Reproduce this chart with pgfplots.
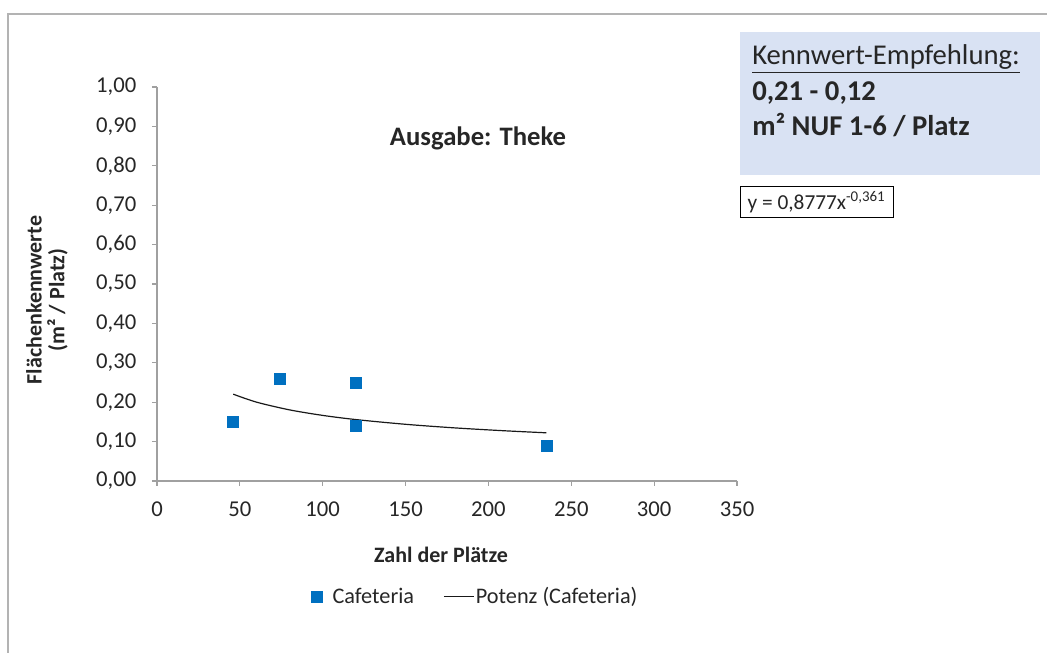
\documentclass[border=0pt]{standalone}
\usepackage{pgfplots}
\pgfplotsset{compat=1.18}
\usepackage{fontspec}
\setmainfont{Carlito}
\definecolor{mblue}{HTML}{0070C0}
\definecolor{boxblue}{HTML}{D9E2F3}
\definecolor{txt}{HTML}{262626}
\definecolor{axgray}{HTML}{A0A0A0}
\begin{document}
\begin{tikzpicture}[x=0.75pt,y=0.75pt]
\path[use as bounding box] (0,0) rectangle (1047,653);
\draw[axgray!80, line width=1.1pt] (8,0) -- (8,639) -- (1047,639);
\begin{axis}[
  at={(117.75pt,129pt)}, anchor=south west,
  scale only axis, width=435pt, height=295.5pt,
  xmin=0, xmax=350, ymin=0, ymax=1,
  axis lines*=left,
  axis line style={axgray, line width=0.8pt},
  tick style={axgray, line width=0.8pt},
  tick align=outside, major tick length=3.75pt,
  xtick={0,50,...,350}, ytick={0,0.1,...,1.0},
  minor tick num=0,
  ticklabel style={font=\fontsize{17}{20}\selectfont, text=txt},
  /pgf/number format/assume math mode=true,
  yticklabel style={xshift=-8.25pt, /pgf/number format/.cd, fixed, fixed zerofill, precision=2, use comma},
  xticklabel style={yshift=-8.5pt, /pgf/number format/.cd, fixed, precision=0},
  scaled y ticks=false,
  legend style={at={(axis description cs:0.546,-0.294)}, anchor=center, draw=none, fill=none,
    legend columns=2, font=\fontsize{16.7}{20}\selectfont, text=txt,
    nodes={inner xsep=1pt},
    /tikz/every even column/.append style={column sep=21pt}},
  clip=false,
]
\addplot[only marks, mark=square*, mark size=4.1pt, color=mblue,
  legend image code/.code={\path[draw=none,fill=none] (-6pt,0pt) rectangle (11pt,0.1pt); \draw plot[only marks] coordinates {(0pt,0pt)};}] coordinates {
  (46,0.15) (74,0.26) (120,0.25) (120,0.14) (235,0.09)
};
\addlegendentry{Cafeteria}
\addplot[black!90, line width=0.9pt, smooth, no marks,
  legend image code/.code={\draw (0pt,0pt) -- (22.5pt,0pt);}] coordinates {
  (46,0.2204) (60,0.2002) (80,0.1805) (100,0.1665) (120,0.1559)
  (150,0.1439) (180,0.1347) (210,0.1274) (235,0.1223)
};
\addlegendentry{Potenz (Cafeteria)}
\end{axis}
% title
\node[font=\fontsize{20}{24}\bfseries\selectfont, text=txt] at (478,515) {Ausgabe: Theke};
% y label
\node[rotate=90, align=center, font=\fontsize{16.5}{17}\bfseries\selectfont, text=txt] at (47,353) {Flächenkennwerte\\(m² / Platz)};
% x label
\node[font=\fontsize{16.5}{20}\bfseries\selectfont, text=txt] at (441,98) {Zahl der Plätze};
% recommendation box
\fill[boxblue] (740,621) rectangle (1040,478);
\node[anchor=base west, font=\fontsize{21.5}{25}\selectfont, text=txt, inner sep=0pt] at (752,588) {\underline{Kennwert-Empfehlung:}};
\node[anchor=base west, font=\fontsize{21.5}{25}\bfseries\selectfont, text=txt, inner sep=0pt] at (752,552) {0,21 - 0,12};
\node[anchor=base west, font=\fontsize{21.5}{25}\bfseries\selectfont, text=txt, inner sep=0pt] at (752,517) {m² NUF 1-6 / Platz};
% equation box
\draw[draw=black, fill=white, line width=0.6pt] (740,467) rectangle (893,436);
\node[font=\fontsize{16}{18}\selectfont, text=txt] at (816.5,451) {y = 0,8777x\textsuperscript{-0,361}};
\end{tikzpicture}
\end{document}
